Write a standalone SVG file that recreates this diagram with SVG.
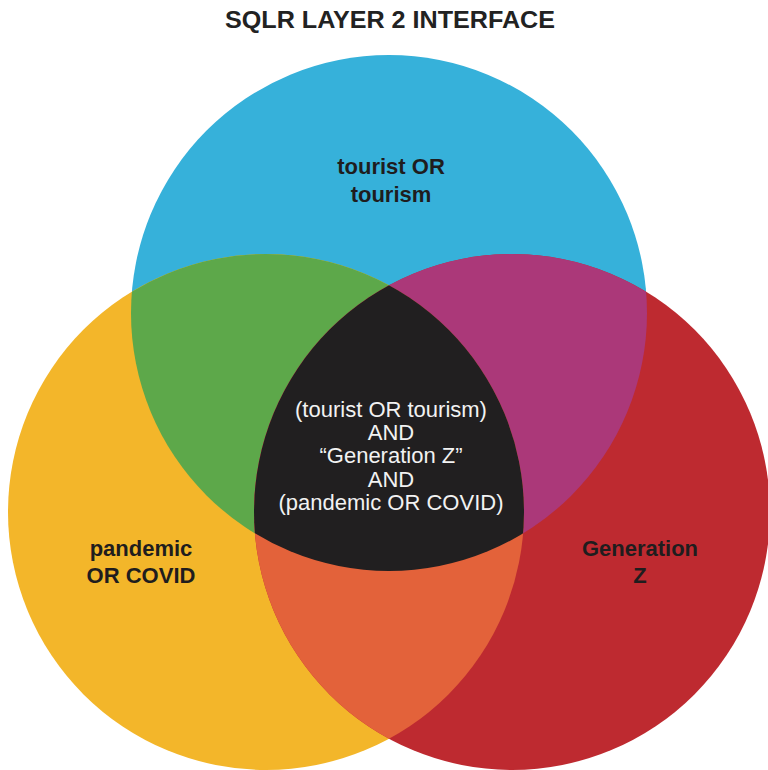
<svg xmlns="http://www.w3.org/2000/svg" width="768" height="770" viewBox="0 0 768 770">
  <defs>
    <clipPath id="clipBlue"><circle cx="389" cy="313" r="258"/></clipPath>
    <clipPath id="clipYellow"><circle cx="266" cy="512" r="258"/></clipPath>
  </defs>
  <style>
    .lbl { font-family: "Liberation Sans", Arial, sans-serif; font-weight: bold; font-size: 22px; fill: #1f1d1e; text-anchor: middle; }
    .ctr { font-family: "Liberation Sans", Arial, sans-serif; font-size: 22px; fill: #f2f2f2; text-anchor: middle; }
    .title { font-family: "Liberation Sans", Arial, sans-serif; font-weight: bold; font-size: 23px; fill: #222; text-anchor: middle; }
  </style>
  <rect width="768" height="770" fill="#ffffff"/>
  <text class="title" x="390" y="28" textLength="330" lengthAdjust="spacingAndGlyphs">SQLR LAYER 2 INTERFACE</text>

  <g id="blue-set">
    <circle cx="389" cy="313" r="258" fill="#36B1DA"/>
  </g>
  <g id="yellow-set">
    <circle cx="266" cy="512" r="258" fill="#F3B62A"/>
  </g>
  <g id="red-set">
    <circle cx="512" cy="512" r="258" fill="#BE2A30"/>
  </g>
  <g id="blue-yellow" clip-path="url(#clipBlue)">
    <circle cx="266" cy="512" r="258" fill="#5DA84A"/>
  </g>
  <g id="blue-red" clip-path="url(#clipBlue)">
    <circle cx="512" cy="512" r="258" fill="#AB3879"/>
  </g>
  <g id="yellow-red" clip-path="url(#clipYellow)">
    <circle cx="512" cy="512" r="258" fill="#E3623A"/>
  </g>
  <g id="all-three" clip-path="url(#clipBlue)">
    <g clip-path="url(#clipYellow)">
      <circle cx="512" cy="512" r="258" fill="#211F20"/>
    </g>
  </g>

  <g id="labels">
    <g id="label-blue">
      <text class="lbl" x="391" y="174">tourist OR</text>
      <text class="lbl" x="391" y="202">tourism</text>
    </g>
    <g id="label-yellow">
      <text class="lbl" x="141" y="556">pandemic</text>
      <text class="lbl" x="141" y="583">OR COVID</text>
    </g>
    <g id="label-red">
      <text class="lbl" x="640" y="556">Generation</text>
      <text class="lbl" x="640" y="583">Z</text>
    </g>
    <g id="label-center">
      <text class="ctr" x="391" y="417">(tourist OR tourism)</text>
      <text class="ctr" x="391" y="440">AND</text>
      <text class="ctr" x="391" y="463">“Generation Z”</text>
      <text class="ctr" x="391" y="487">AND</text>
      <text class="ctr" x="391" y="510">(pandemic OR COVID)</text>
    </g>
  </g>
</svg>
